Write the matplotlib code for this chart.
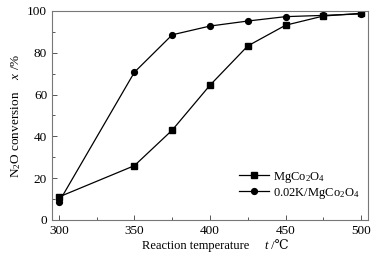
import matplotlib
matplotlib.use("Agg")
import matplotlib.pyplot as plt
from matplotlib.ticker import MultipleLocator
from matplotlib.offsetbox import TextArea, HPacker, AnchoredOffsetbox

serif = ['Liberation Serif', 'DejaVu Serif', 'Noto Sans CJK SC']
plt.rcParams['font.family'] = serif
plt.rcParams['mathtext.fontset'] = 'custom'
plt.rcParams['mathtext.rm'] = 'Liberation Serif'
plt.rcParams['mathtext.it'] = 'Liberation Serif:italic'

# data
temps = [300, 350, 375, 400, 425, 450, 475, 500]
mgco = [11, 26, 43, 64.5, 83.3, 93.2, 97.6, 98.9]
k_mgco = [8.5, 70.7, 88.6, 92.8, 95.2, 97.3, 97.9, 98.6]

fig = plt.figure(figsize=(3.82, 2.62), dpi=100)
ax = fig.add_axes([52 / 382, 42 / 262, 316 / 382, 209 / 262])

ax.plot(temps, mgco, color='black', lw=0.9, marker='s', ms=3.8, label='MgCo$_2$O$_4$')
ax.plot(temps, k_mgco, color='black', lw=0.9, marker='o', ms=4.2, label='0.02K/MgCo$_2$O$_4$')

ax.set_xlim(295.5, 504.5)
ax.set_ylim(0, 100)
ax.xaxis.set_major_locator(MultipleLocator(50))
ax.xaxis.set_minor_locator(MultipleLocator(25))
ax.yaxis.set_major_locator(MultipleLocator(20))
ax.yaxis.set_minor_locator(MultipleLocator(10))
ax.tick_params(which='both', direction='in', labelsize=9.5, color='#555555', width=0.7)
ax.tick_params(which='major', length=3.5)
ax.tick_params(which='minor', length=2)
for sp in ax.spines.values():
    sp.set_color('#777777')
    sp.set_linewidth(0.8)

# x label built from pieces so the degree-Celsius sign can fall back to another font
tp = dict(fontsize=9, family=serif)
xlab = HPacker(children=[TextArea('Reaction temperature     ', textprops=tp),
                         TextArea('t', textprops=dict(tp, fontstyle='italic')),
                         TextArea(' /\u2103', textprops=tp)],
               align='baseline', pad=0, sep=0)
ax.add_artist(AnchoredOffsetbox(loc='upper center', child=xlab, pad=0, borderpad=0, frameon=False,
                                bbox_to_anchor=(0.516, -0.095), bbox_transform=ax.transAxes))
ax.set_ylabel('N$_2$O conversion    $x$ /%', fontsize=9.5, labelpad=3)

leg = ax.legend(loc='lower right', bbox_to_anchor=(1.0, 0.05), frameon=False, fontsize=9,
                handlelength=2.4, handletextpad=0.3, labelspacing=0.1, borderpad=0.2)

fig.savefig('out.png', dpi=100)
